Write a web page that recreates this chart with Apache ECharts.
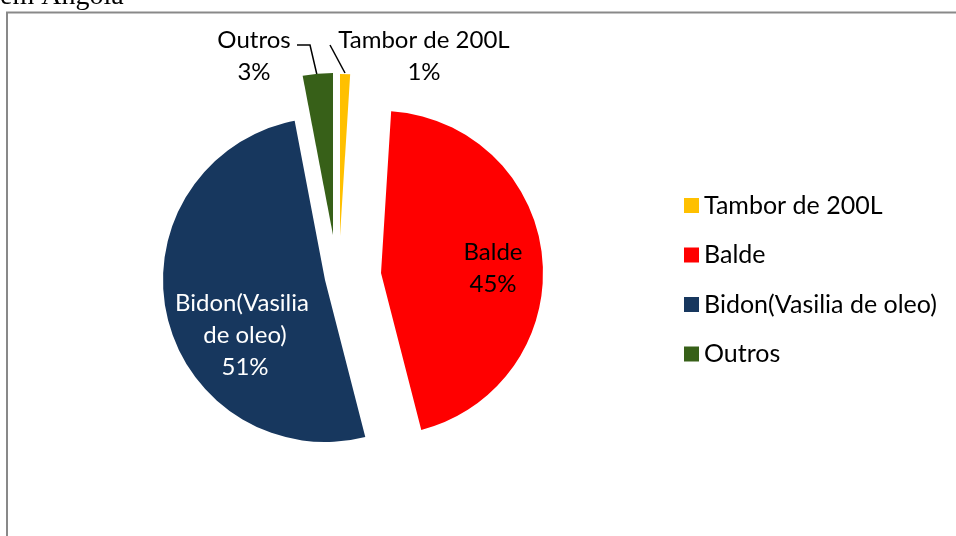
<!DOCTYPE html>
<html>
<head>
<meta charset="utf-8">
<script src="https://cdn.jsdelivr.net/npm/echarts@6/dist/echarts.min.js"></script>
<style>
  html,body{margin:0;padding:0;background:#fff;}
  #main{width:956px;height:536px;}
</style>
</head>
<body>
<div id="main"></div>
<script>
let categories = ['Tambor de 200L', 'Balde', 'Bidon(Vasilia de oleo)', 'Outros']
let values = [1, 45, 51, 3]
let colors = ['#FFC000', '#FF0000', '#17375E', '#376018']

// each slice is exploded on its own, so one pie series per slice
let centers = [[340, 236], [381, 273], [325, 280], [333, 235]]
let labelPos = [[424, 56], [493, 268], [245, 335], [254, 56]]
let linePts = [[[345, 73], [330, 45]], null, null, [[317, 75], [310, 45], [297, 45]]]
let inside = [false, true, true, false]
let labelColor = ['#000', '#000', '#fff', '#000']

let font = 'Lato'
let myChart = echarts.init(document.getElementById('main'))

let series = categories.map(function (name, k) {
  return {
    type: 'pie',
    radius: 162,
    center: centers[k],
    startAngle: 90,
    clockwise: true,
    silent: true,
    animation: false,
    avoidLabelOverlap: false,
    data: values.map(function (v, i) {
      if (i !== k) {
        return {value: v, name: '', itemStyle: {color: 'rgba(0,0,0,0)'}, label: {show: false}, labelLine: {show: false}}
      }
      return {value: v, name: name, itemStyle: {color: colors[i]}}
    }),
    label: {
      show: true,
      position: inside[k] ? 'inside' : 'outside',
      formatter: '{b}\n{d}%',
      color: labelColor[k],
      fontFamily: font,
      fontSize: 24,
      lineHeight: 32,
      width: k === 2 ? 150 : 260,
      overflow: 'break'
    },
    labelLine: {show: !inside[k], lineStyle: {color: '#000', width: 1.5}},
    labelLayout: function (p) {
      if (p.dataIndex !== k) return {}
      let o = {x: labelPos[k][0], y: labelPos[k][1], align: 'center', verticalAlign: 'middle'}
      if (linePts[k]) o.labelLinePoints = linePts[k]
      return o
    }
  }
})

let option = {
  backgroundColor: '#fff',
  graphic: [
    {
      type: 'rect',
      shape: {x: 7, y: 12.5, width: 1000, height: 600},
      style: {fill: 'none', stroke: '#898989', lineWidth: 2}
    },
    {
      type: 'text',
      x: 0,
      y: 11,
      style: {text: 'em Angola', font: '28px "Liberation Serif"', fill: '#000', verticalAlign: 'bottom'}
    }
  ],
  legend: {
    orient: 'vertical',
    left: 679,
    top: 188,
    itemWidth: 15,
    itemHeight: 15,
    itemGap: 24.5,
    icon: 'rect',
    selectedMode: false,
    textStyle: {fontFamily: font, fontSize: 25, lineHeight: 24, color: '#000'},
    data: categories
  },
  series: series
}

myChart.setOption(option)
</script>
</body>
</html>
